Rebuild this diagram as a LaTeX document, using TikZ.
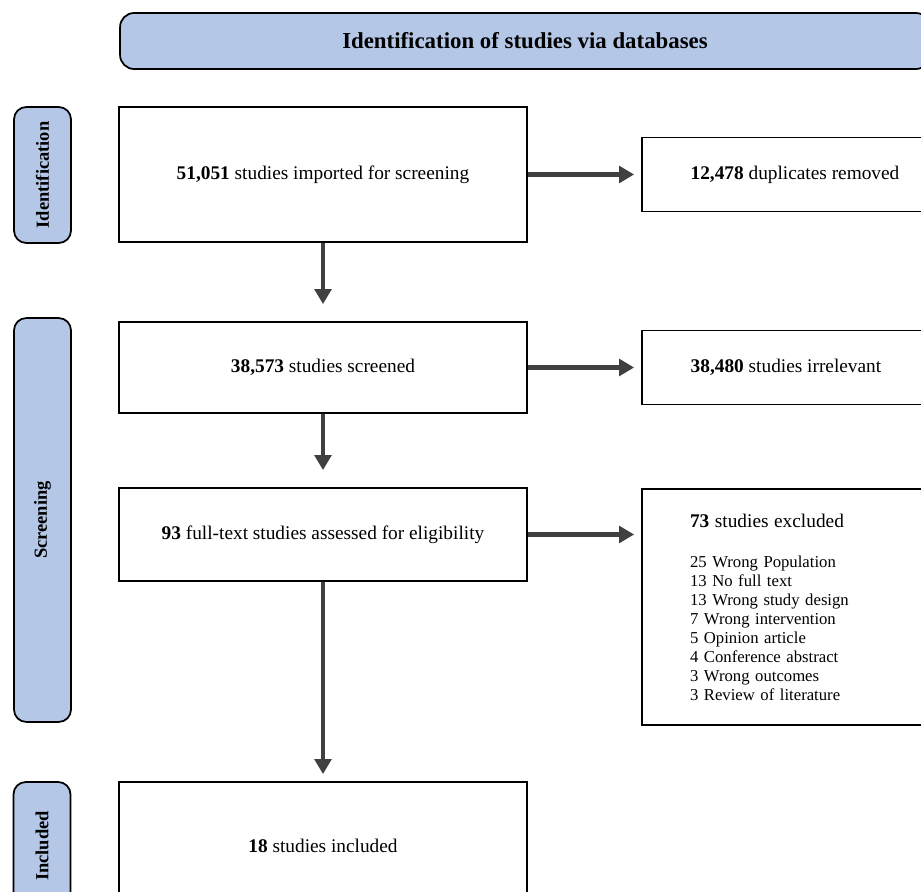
\documentclass[tikz,border=0pt]{standalone}
\usepackage{fontspec}
\setmainfont{Liberation Serif}
\usepackage{tikz}
\usetikzlibrary{arrows.meta,positioning}
\definecolor{phaseblue}{RGB}{180,199,231}
\definecolor{arrowgray}{RGB}{64,64,64}

\begin{document}
\begin{tikzpicture}[x=0.02cm,y=-0.02cm,
        stage/.style={draw,line width=1pt,align=center,minimum width=8.16cm,
                      font=\fontsize{11}{13}\selectfont},
        outbox/.style={draw,line width=1pt,align=center,font=\fontsize{11}{13}\selectfont},
        phase/.style={draw,line width=1pt,rounded corners=7pt,fill=phaseblue,rotate=90,
                      minimum height=1.14cm,font=\bfseries\fontsize{10.5}{12.5}\selectfont},
        arr/.style={draw=arrowgray,line width=2.8pt,-{Triangle[length=3mm,width=3.3mm]}}]
  \useasboundingbox (0,0) rectangle (921,892);
  \clip (0,0) rectangle (921,892);
  \node[draw,line width=1pt,rounded corners=8pt,fill=phaseblue,minimum width=16.2cm,
        minimum height=1.12cm,font=\bfseries\fontsize{13}{15}\selectfont] (title) at (525,41)
        {Identification of studies via databases};
  % phases
  \node[phase,minimum width=2.72cm] (pid) at (42.5,175) {Identification};
  \node[phase,minimum width=8.08cm] (pscr) at (42.5,520) {Screening};
  \node[phase,minimum width=2.56cm] (pinc) at (42,846) {Included};
  % main flow
  \node[stage,minimum height=2.7cm] (imp) at (323,174.5) {\textbf{51,051} studies imported for screening};
  \node[stage,minimum height=1.82cm] (scr) at (323,367.5) {\textbf{38,573} studies screened};
  \node[stage,minimum height=1.86cm] (full) at (323,534.5) {\textbf{93} full-text studies assessed for eligibility};
  \node[stage,minimum height=2.56cm] (inc) at (323,846) {\textbf{18} studies included};
  % removed records
  \node[outbox,minimum width=6.12cm,minimum height=1.48cm] (dup) at (795,174.5) {\textbf{12,478} duplicates removed};
  \node[outbox,minimum width=5.76cm,minimum height=1.48cm] (irr) at (786,367.5) {\textbf{38,480} studies irrelevant};
  \node[outbox,align=left,text width=5cm,inner xsep=0.96cm,minimum height=4.72cm,
        font=\fontsize{9.5}{10.8}\selectfont] (exc) at (815,607)
        {{\fontsize{11}{13}\selectfont\textbf{73} studies excluded}\\[12pt]
         25 Wrong Population\\13 No full text\\13 Wrong study design\\7 Wrong intervention\\
         5 Opinion article\\4 Conference abstract\\3 Wrong outcomes\\3 Review of literature};
  \draw[arr,shorten >=1.4mm] (imp) -- (dup);
  \draw[arr,shorten >=1.4mm] (scr) -- (irr);
  \draw[arr,shorten >=1.4mm] (full.east) -- (full.east -| exc.west);
  \draw[arr,shorten >=3.4mm] (imp) -- (scr);
  \draw[arr,shorten >=3.4mm] (scr) -- (full);
  \draw[arr,shorten >=1.4mm] (full) -- (inc);
\end{tikzpicture}
\end{document}
